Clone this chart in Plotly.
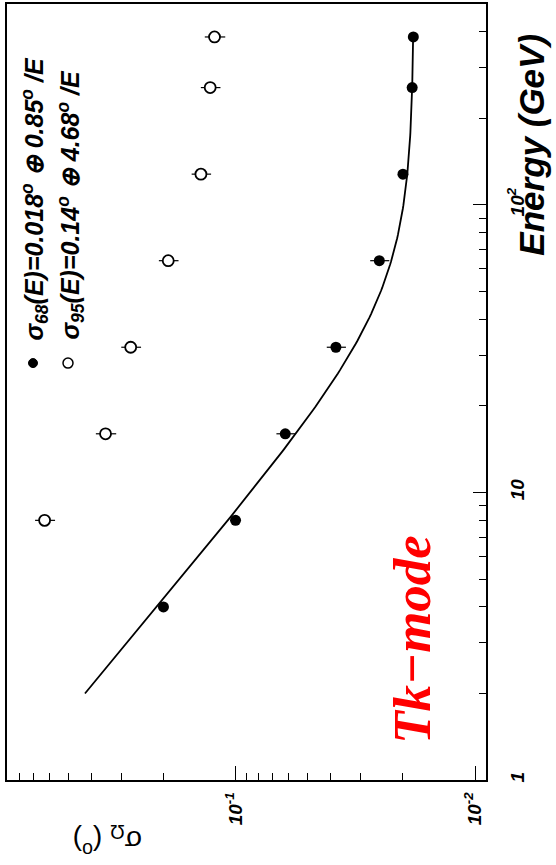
import plotly.graph_objects as go
import numpy as np

# ---- data ----
energy = [4, 8, 16, 32, 64, 128, 256, 384]           # GeV
sigma68 = [0.200, 0.100, 0.0620, 0.0381, 0.0251, 0.0200, 0.0183, 0.0181]
sigma68_err = [0.009, 0.005, 0.0055, 0.0035, 0.0023, 0.0009, 0.0006, 0.0006]

energy95 = [8, 16, 32, 64, 128, 256, 384]
sigma95 = [0.627, 0.349, 0.274, 0.191, 0.1395, 0.1276, 0.1224]
sigma95_err = [0.060, 0.034, 0.026, 0.018, 0.013, 0.012, 0.012]

# fit parameters shown in the legend: sigma68(E) = a (+) b/E
fit_a = 0.018
fit_b = 0.85
fit_emin, fit_emax = 2.0, 384.0

x_ticks = [0.01, 0.1]
x_ticktext = ["10<sup>-2</sup>", "10<sup>-1</sup>"]
x_minor = [0.02, 0.03, 0.04, 0.05, 0.06, 0.07, 0.08, 0.09,
           0.2, 0.3, 0.4, 0.5, 0.6, 0.7, 0.8]
y_ticks = [1, 10, 100]
y_ticktext = ["1", "10", "10<sup>2</sup>"]
y_minor = [2, 3, 4, 5, 6, 7, 8, 9, 20, 30, 40, 50, 60, 70, 80, 90, 200, 300, 400]

# ---- layout geometry (pixels) ----
W, H = 556, 865
L, R, T, B = 7, 70, 2, 85
pw, ph = W - L - R, H - T - B


def px(xp):
    return (xp - L) / pw


def py(yp):
    return (H - B - yp) / ph


e_curve = np.logspace(np.log10(fit_emin), np.log10(fit_emax), 200)
s_curve = np.sqrt(fit_a ** 2 + (fit_b / e_curve) ** 2)

fig = go.Figure()

fig.add_trace(go.Scatter(
    x=s_curve, y=e_curve, mode="lines",
    line=dict(color="black", width=1.8), hoverinfo="skip", showlegend=False))

fig.add_trace(go.Scatter(
    x=sigma95, y=energy95, mode="markers",
    error_x=dict(type="data", array=sigma95_err, color="black", thickness=1.2, width=0),
    marker=dict(symbol="circle", size=11, color="white", line=dict(color="black", width=1.8)),
    showlegend=False))

fig.add_trace(go.Scatter(
    x=sigma68, y=energy, mode="markers",
    error_x=dict(type="data", array=sigma68_err, color="black", thickness=1.2, width=0),
    marker=dict(symbol="circle", size=11, color="black"),
    showlegend=False))

tickfont = dict(family="Liberation Sans", size=19, color="black", weight="bold", style="italic")

fig.update_layout(
    width=W, height=H,
    margin=dict(l=L, r=R, t=T, b=B),
    paper_bgcolor="white", plot_bgcolor="white",
    xaxis=dict(
        type="log", range=[np.log10(0.9), np.log10(0.009)],
        tickvals=x_ticks, ticktext=x_ticktext, tickangle=-90,
        ticks="inside", ticklen=14, tickwidth=1.3, tickcolor="black",
        minor=dict(tickvals=x_minor, ticks="inside", ticklen=7, tickwidth=1.3, tickcolor="black"),
        showline=True, linecolor="black", linewidth=1.6, mirror=True,
        showgrid=False, zeroline=False, tickfont=tickfont, ticklabelstandoff=3,
    ),
    yaxis=dict(
        type="log", range=[0, np.log10(500)], side="right",
        tickvals=y_ticks, ticktext=y_ticktext, tickangle=-90,
        ticks="inside", ticklen=13, tickwidth=1.3, tickcolor="black",
        minor=dict(tickvals=y_minor, ticks="inside", ticklen=7, tickwidth=1.3, tickcolor="black"),
        showline=True, linecolor="black", linewidth=1.6, mirror=True,
        showgrid=False, zeroline=False, tickfont=tickfont, ticklabelstandoff=13,
    ),
)

ann_font = dict(family="Liberation Sans", color="black", weight="bold", style="italic")

fig.add_annotation(
    text="Energy (GeV)", xref="paper", yref="paper", x=px(532), y=py(143),
    textangle=-90, showarrow=False, xanchor="center", yanchor="middle",
    font=dict(ann_font, size=35))

fig.add_annotation(
    text="σ<sub>Ω</sub> (<sup>o</sup>)", xref="paper", yref="paper", x=px(108), y=py(841),
    textangle=180, showarrow=False, xanchor="center", yanchor="middle",
    font=dict(family="Liberation Sans", size=28, color="black"))

fig.add_annotation(
    text="Tk−mode", xref="paper", yref="paper", x=px(412.5), y=py(639),
    textangle=-90, showarrow=False, xanchor="center", yanchor="middle",
    font=dict(family="Liberation Serif", size=53, color="#ff0000", weight="bold", style="italic"))

fig.add_annotation(
    text="σ<sub>68</sub>(E)=0.018<sup>o</sup> ⊕ 0.85<sup>o</sup> /E", xref="paper", yref="paper",
    x=px(35), y=py(198), textangle=-90, showarrow=False, xanchor="center", yanchor="middle",
    font=dict(ann_font, size=25))
fig.add_annotation(
    text="σ<sub>95</sub>(E)=0.14<sup>o</sup> ⊕ 4.68<sup>o</sup> /E", xref="paper", yref="paper",
    x=px(71), y=py(203), textangle=-90, showarrow=False, xanchor="center", yanchor="middle",
    font=dict(ann_font, size=25))

# legend symbols
fig.add_shape(type="circle", xref="paper", yref="paper", xsizemode="pixel", ysizemode="pixel",
              xanchor=px(33), yanchor=py(362), x0=-4.5, x1=4.5, y0=-4.5, y1=4.5,
              fillcolor="black", line=dict(color="black", width=1))
fig.add_shape(type="circle", xref="paper", yref="paper", xsizemode="pixel", ysizemode="pixel",
              xanchor=px(68), yanchor=py(362), x0=-5, x1=5, y0=-5, y1=5,
              fillcolor="white", line=dict(color="black", width=1.5))

fig.write_html("out.html", config={"displayModeBar": False},
               post_script="document.body.style.margin='0';")
